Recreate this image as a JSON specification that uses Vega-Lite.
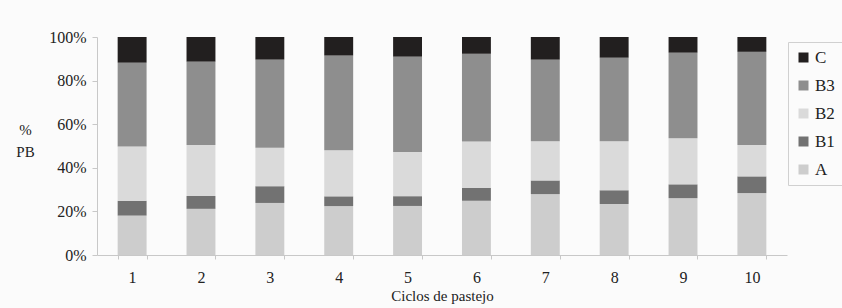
{
  "$schema": "https://vega.github.io/schema/vega-lite/v6.json",
  "autosize": {"type": "none"},
  "padding": {"left": 97, "top": 37, "right": 55, "bottom": 53},
  "width": 690,
  "height": 218,
  "background": "#fbfbfb",
  "config": {
    "view": {"stroke": null},
    "font": "Liberation Serif",
    "axis": {"labelFont": "Liberation Serif", "titleFont": "Liberation Serif", "labelColor": "#222", "titleColor": "#222", "titleFontWeight": "normal", "grid": false}
  },
  "data": {
    "values": [
      {"ciclo": "1", "serie": "A", "k": 1, "v": 18.1},
      {"ciclo": "1", "serie": "B1", "k": 2, "v": 6.8},
      {"ciclo": "1", "serie": "B2", "k": 3, "v": 24.9},
      {"ciclo": "1", "serie": "B3", "k": 4, "v": 38.5},
      {"ciclo": "1", "serie": "C", "k": 5, "v": 11.8},
      {"ciclo": "2", "serie": "A", "k": 1, "v": 21.2},
      {"ciclo": "2", "serie": "B1", "k": 2, "v": 5.9},
      {"ciclo": "2", "serie": "B2", "k": 3, "v": 23.4},
      {"ciclo": "2", "serie": "B3", "k": 4, "v": 38.3},
      {"ciclo": "2", "serie": "C", "k": 5, "v": 11.3},
      {"ciclo": "3", "serie": "A", "k": 1, "v": 23.9},
      {"ciclo": "3", "serie": "B1", "k": 2, "v": 7.7},
      {"ciclo": "3", "serie": "B2", "k": 3, "v": 17.6},
      {"ciclo": "3", "serie": "B3", "k": 4, "v": 40.5},
      {"ciclo": "3", "serie": "C", "k": 5, "v": 10.4},
      {"ciclo": "4", "serie": "A", "k": 1, "v": 22.4},
      {"ciclo": "4", "serie": "B1", "k": 2, "v": 4.5},
      {"ciclo": "4", "serie": "B2", "k": 3, "v": 21.1},
      {"ciclo": "4", "serie": "B3", "k": 4, "v": 43.5},
      {"ciclo": "4", "serie": "C", "k": 5, "v": 8.5},
      {"ciclo": "5", "serie": "A", "k": 1, "v": 22.5},
      {"ciclo": "5", "serie": "B1", "k": 2, "v": 4.5},
      {"ciclo": "5", "serie": "B2", "k": 3, "v": 20.3},
      {"ciclo": "5", "serie": "B3", "k": 4, "v": 43.7},
      {"ciclo": "5", "serie": "C", "k": 5, "v": 9.0},
      {"ciclo": "6", "serie": "A", "k": 1, "v": 24.9},
      {"ciclo": "6", "serie": "B1", "k": 2, "v": 5.9},
      {"ciclo": "6", "serie": "B2", "k": 3, "v": 21.3},
      {"ciclo": "6", "serie": "B3", "k": 4, "v": 40.3},
      {"ciclo": "6", "serie": "C", "k": 5, "v": 7.7},
      {"ciclo": "7", "serie": "A", "k": 1, "v": 27.9},
      {"ciclo": "7", "serie": "B1", "k": 2, "v": 6.3},
      {"ciclo": "7", "serie": "B2", "k": 3, "v": 18.0},
      {"ciclo": "7", "serie": "B3", "k": 4, "v": 37.4},
      {"ciclo": "7", "serie": "C", "k": 5, "v": 10.4},
      {"ciclo": "8", "serie": "A", "k": 1, "v": 23.4},
      {"ciclo": "8", "serie": "B1", "k": 2, "v": 6.3},
      {"ciclo": "8", "serie": "B2", "k": 3, "v": 22.5},
      {"ciclo": "8", "serie": "B3", "k": 4, "v": 38.3},
      {"ciclo": "8", "serie": "C", "k": 5, "v": 9.5},
      {"ciclo": "9", "serie": "A", "k": 1, "v": 26.1},
      {"ciclo": "9", "serie": "B1", "k": 2, "v": 6.3},
      {"ciclo": "9", "serie": "B2", "k": 3, "v": 21.2},
      {"ciclo": "9", "serie": "B3", "k": 4, "v": 39.2},
      {"ciclo": "9", "serie": "C", "k": 5, "v": 7.2},
      {"ciclo": "10", "serie": "A", "k": 1, "v": 28.4},
      {"ciclo": "10", "serie": "B1", "k": 2, "v": 7.7},
      {"ciclo": "10", "serie": "B2", "k": 3, "v": 14.4},
      {"ciclo": "10", "serie": "B3", "k": 4, "v": 42.8},
      {"ciclo": "10", "serie": "C", "k": 5, "v": 6.8}
    ]
  },
  "mark": {"type": "bar"},
  "encoding": {
    "x": {
      "field": "ciclo",
      "type": "ordinal",
      "sort": ["1","2","3","4","5","6","7","8","9","10"],
      "scale": {"paddingInner": 0.58, "paddingOuter": 0.3},
      "axis": {
        "title": "Ciclos de pastejo",
        "labelAngle": 0,
        "labelFontSize": 16,
        "labelPadding": 10,
        "titleFontSize": 15,
        "titlePadding": 3,
        "tickBand": "extent",
        "domainColor": "#c8c8c8",
        "tickColor": "#c8c8c8",
        "tickSize": 4
      }
    },
    "y": {
      "aggregate": "sum",
      "field": "v",
      "type": "quantitative",
      "stack": "normalize",
      "axis": {
        "title": ["%", "PB"],
        "titleAngle": 0,
        "titleFontSize": 15,
        "titleX": -72,
        "titleY": 100,
        "titleAlign": "center",
        "titleLineHeight": 22,
        "format": ".0%",
        "values": [0, 0.2, 0.4, 0.6, 0.8, 1],
        "labelFontSize": 16,
        "labelPadding": 6,
        "domainColor": "#c8c8c8",
        "tickColor": "#c8c8c8",
        "tickSize": 5
      }
    },
    "color": {
      "field": "serie",
      "type": "nominal",
      "scale": {
        "domain": ["C", "B3", "B2", "B1", "A"],
        "range": ["#221f1f", "#8e8e8e", "#dadada", "#727272", "#cdcdcd"]
      },
      "legend": {
        "title": null,
        "orient": "none",
        "legendX": 691,
        "legendY": 5,
        "symbolType": "square",
        "symbolSize": 100,
        "symbolStrokeWidth": 0,
        "labelFont": "Liberation Serif",
        "labelFontSize": 17,
        "labelColor": "#222",
        "rowPadding": 10,
        "padding": 7,
        "strokeColor": "#d0d0d0",
        "fillColor": "#fbfbfb",
        "labelOffset": 3
      }
    },
    "order": {"field": "k", "type": "quantitative"}
  }
}
